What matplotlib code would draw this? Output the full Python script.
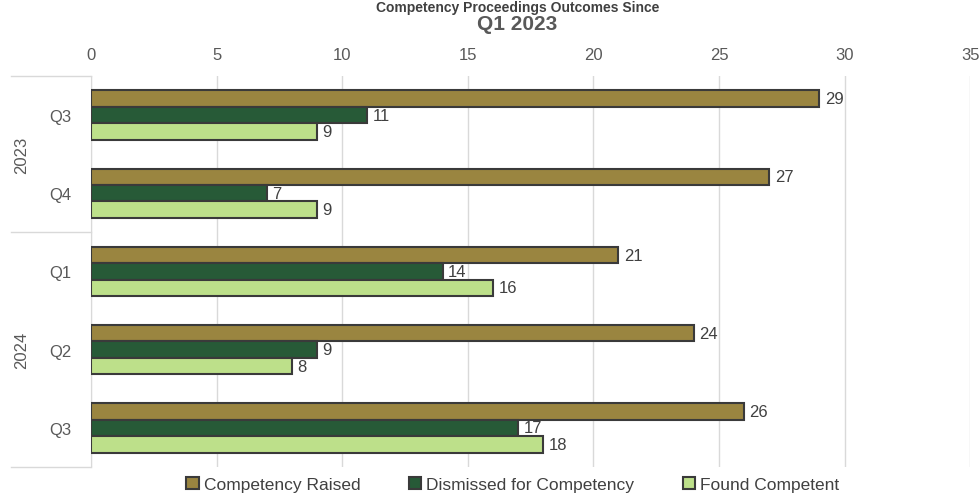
import matplotlib.pyplot as plt
import numpy as np

quarters = ["Q3", "Q4", "Q1", "Q2", "Q3"]
years = ["2023", "2024"]
year_spans = [(0, 1), (2, 4)]
raised = [29, 27, 21, 24, 26]
dismissed = [11, 7, 14, 9, 17]
found = [9, 9, 16, 8, 18]
series = [("Competency Raised", raised, "#9a8540"),
          ("Dismissed for Competency", dismissed, "#275a37"),
          ("Found Competent", found, "#bde08a")]

plt.rcParams['font.family'] = ['Liberation Sans', 'DejaVu Sans']

fig = plt.figure(figsize=(9.8, 5.02), dpi=100)
ax = fig.add_axes([0.0929, 0.0677, 0.897, 0.779])

y = np.arange(len(quarters))
h = 0.21
for i, (name, vals, col) in enumerate(series):
    pos = y + (i - 1) * h
    bars = ax.barh(pos, vals, height=h, color=col, edgecolor="#3a3a3a",
                   linewidth=1.5, label=name, zorder=3)
    for b, v in zip(bars, vals):
        ax.annotate(str(v), (v, b.get_y() + b.get_height() / 2),
                    xytext=(4, 0), textcoords="offset points",
                    va="center", ha="left", fontsize=12, color="#404040")

ax.set_xlim(0, 35)
ax.set_ylim(4.5, -0.5)
ax.set_xticks(range(0, 36, 5))
ax.xaxis.tick_top()
ax.tick_params(axis="x", length=0, labelsize=12, labelcolor="#595959", pad=10)
ax.set_yticks(y)
ax.set_yticklabels(quarters)
ax.tick_params(axis="y", length=0, labelsize=12, labelcolor="#595959", pad=14)
ax.grid(axis="x", color="#d9d9d9", linewidth=1, zorder=0)
for s in ["top", "right", "bottom"]:
    ax.spines[s].set_visible(False)
ax.spines["left"].set_color("#d9d9d9")

# year group separators and labels
for s in [-0.5, 1.5, 4.5]:
    ax.plot([-3.2, 0], [s, s], color="#d9d9d9", linewidth=1, clip_on=False)
for yr, (a, b) in zip(years, year_spans):
    ax.text(-2.75, (a + b) / 2, yr, rotation=90, ha="center", va="center",
            fontsize=12, color="#595959")

fig.text(0.528, 0.999, "Competency Proceedings Outcomes Since", ha="center",
         va="top", fontsize=10, fontweight="bold", color="#404040")
fig.text(0.528, 0.952, "Q1 2023", ha="center", va="center", fontsize=15,
         fontweight="bold", color="#595959")

ax.legend(loc="lower center", bbox_to_anchor=(0.48, -0.105), ncol=3,
          frameon=False, fontsize=12.5, handlelength=0.7, handleheight=0.7,
          handletextpad=0.3, columnspacing=2.8, labelcolor="#404040")

fig.savefig("out.png", dpi=100)
